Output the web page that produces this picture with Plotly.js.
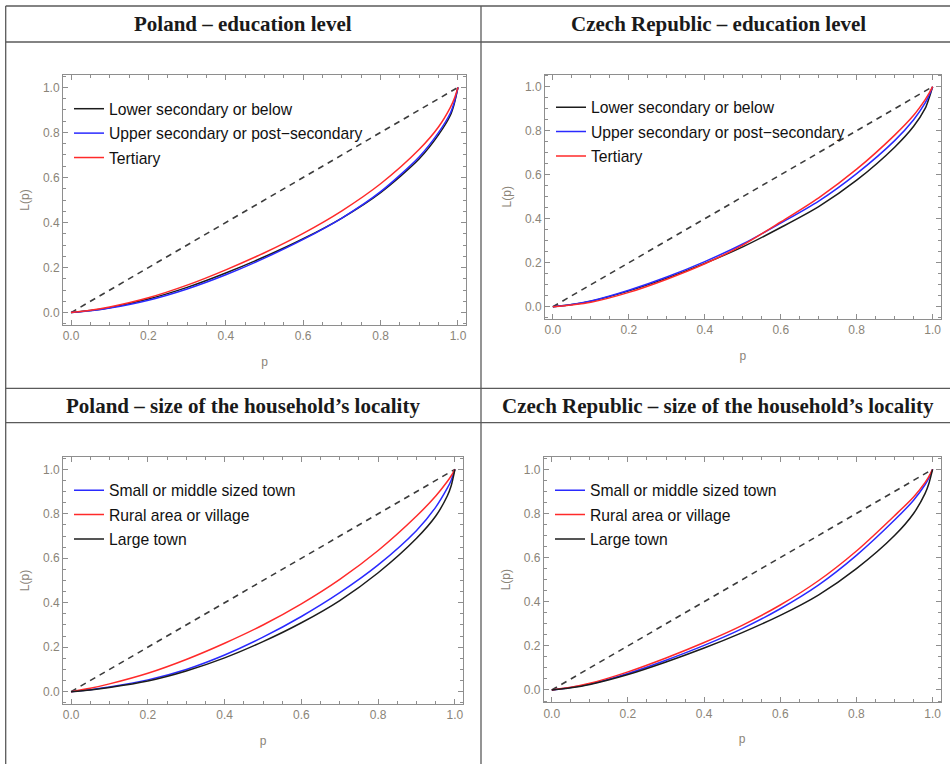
<!DOCTYPE html>
<html>
<head>
<meta charset="utf-8">
<script src="https://cdn.plot.ly/plotly-3.0.1.min.js"></script>
<style>
  html, body { margin: 0; padding: 0; background: #ffffff; }
  #chart { width: 950px; height: 764px; }
</style>
</head>
<body>
<div id="chart"></div>
<script>
// ---- data ----
const pGrid = [0, 0.05, 0.1, 0.2, 0.3, 0.4, 0.5, 0.6, 0.7, 0.8, 0.9, 0.95, 0.98, 0.99, 1];
const equality = [0, 1];

// Poland – education level
const plEduLower    = [0, 0.009, 0.022, 0.060, 0.112, 0.176, 0.248, 0.328, 0.420, 0.533, 0.683, 0.790, 0.875, 0.925, 1];
const plEduUpper    = [0, 0.008, 0.020, 0.055, 0.105, 0.168, 0.242, 0.325, 0.420, 0.537, 0.692, 0.800, 0.885, 0.932, 1];
const plEduTertiary = [0, 0.010, 0.025, 0.066, 0.122, 0.190, 0.266, 0.352, 0.452, 0.572, 0.725, 0.825, 0.910, 0.948, 1];

// Czech Republic – education level
const czEduLower    = [0, 0.010, 0.025, 0.072, 0.130, 0.197, 0.272, 0.360, 0.455, 0.575, 0.725, 0.820, 0.900, 0.945, 1];
const czEduUpper    = [0, 0.010, 0.026, 0.075, 0.135, 0.205, 0.285, 0.380, 0.480, 0.605, 0.755, 0.850, 0.925, 0.958, 1];
const czEduTertiary = [0, 0.008, 0.020, 0.065, 0.125, 0.195, 0.280, 0.385, 0.495, 0.625, 0.780, 0.870, 0.940, 0.968, 1];

// Poland – size of the household's locality
const plLocSmall = [0, 0.009, 0.021, 0.053, 0.100, 0.165, 0.245, 0.338, 0.445, 0.570, 0.725, 0.830, 0.915, 0.950, 1];
const plLocRural = [0, 0.015, 0.035, 0.083, 0.145, 0.218, 0.300, 0.395, 0.505, 0.635, 0.790, 0.880, 0.945, 0.970, 1];
const plLocLarge = [0, 0.008, 0.019, 0.048, 0.093, 0.152, 0.225, 0.310, 0.410, 0.535, 0.690, 0.790, 0.880, 0.925, 1];

// Czech Republic – size of the household's locality
const czLocSmall = [0, 0.011, 0.027, 0.075, 0.135, 0.202, 0.278, 0.368, 0.475, 0.610, 0.770, 0.860, 0.930, 0.960, 1];
const czLocRural = [0, 0.012, 0.030, 0.082, 0.145, 0.215, 0.293, 0.385, 0.495, 0.630, 0.790, 0.875, 0.940, 0.967, 1];
const czLocLarge = [0, 0.010, 0.025, 0.070, 0.127, 0.190, 0.260, 0.338, 0.430, 0.550, 0.700, 0.800, 0.890, 0.935, 1];

const eduNames = ["Lower secondary or below", "Upper secondary or post\u2212secondary", "Tertiary"];
const locNames = ["Small or middle sized town", "Rural area or village", "Large town"];
const panelTitles = [
  "Poland \u2013 education level",
  "Czech Republic \u2013 education level",
  "Poland \u2013 size of the household\u2019s locality",
  "Czech Republic \u2013 size of the household\u2019s locality"
];
const tickVals = [0, 0.2, 0.4, 0.6, 0.8, 1.0];
const tickLabels = ["0.0", "0.2", "0.4", "0.6", "0.8", "1.0"];

// ---- styling ----
const W = 950, H = 764;
const BLACK = "#1c1c1c", BLUE = "#2a2aff", RED = "#ff2a2a";
const LW = 1.5;
const GRAYTXT = "#8a8478";
const FRAME = "#8e8e8e";
const px = v => v / W;
const py = v => 1 - v / H;

const panels = [
  { xa: "x",  ya: "y",  leg: "legend",  dx: [63, 466],    dy: [75, 325],
    series: [[plEduLower, eduNames[0], BLACK], [plEduUpper, eduNames[1], BLUE], [plEduTertiary, eduNames[2], RED]],
    legX: 69, legY: 92 },
  { xa: "x2", ya: "y2", leg: "legend2", dx: [545, 940.5], dy: [74.6, 318.8],
    series: [[czEduLower, eduNames[0], BLACK], [czEduUpper, eduNames[1], BLUE], [czEduTertiary, eduNames[2], RED]],
    legX: 551, legY: 90.5 },
  { xa: "x3", ya: "y3", leg: "legend3", dx: [63.1, 462.9], dy: [457.1, 703.9],
    series: [[plLocSmall, locNames[0], BLUE], [plLocRural, locNames[1], RED], [plLocLarge, locNames[2], BLACK]],
    legX: 69, legY: 473.5 },
  { xa: "x4", ya: "y4", leg: "legend4", dx: [543.9, 940.5], dy: [457.2, 702.1],
    series: [[czLocSmall, locNames[0], BLUE], [czLocRural, locNames[1], RED], [czLocLarge, locNames[2], BLACK]],
    legX: 550, legY: 473.5 }
];

const traces = [];
const layout = {
  width: W, height: H,
  margin: { l: 0, r: 0, t: 0, b: 0 },
  paper_bgcolor: "#ffffff",
  plot_bgcolor: "#ffffff",
  font: { family: "Liberation Sans, Arial, sans-serif", color: GRAYTXT, size: 12 },
  showlegend: true,
  annotations: [],
  shapes: []
};

panels.forEach((pn, i) => {
  traces.push({
    x: equality, y: equality, xaxis: pn.xa, yaxis: pn.ya, mode: "lines",
    line: { color: "#3c3c3c", width: 1.6, dash: "6px,5px" },
    showlegend: false, hoverinfo: "skip"
  });
  pn.series.forEach((s, k) => {
    traces.push({
      x: pGrid, y: s[0], name: s[1], xaxis: pn.xa, yaxis: pn.ya, mode: "lines",
      line: { color: s[2], width: LW, shape: "spline", smoothing: 0.8 },
      legend: pn.leg, legendgroup: pn.leg + "_" + k
    });
  });
  const sfx = i === 0 ? "" : String(i + 1);
  const axCommon = {
    showgrid: false, zeroline: false,
    showline: true, linecolor: FRAME, linewidth: 1, mirror: "allticks",
    ticks: "inside", ticklen: 5, tickwidth: 1, tickcolor: FRAME,
    tickmode: "array", tickvals: tickVals, ticktext: tickLabels,
    tickfont: { family: "Liberation Sans, Arial, sans-serif", size: 12, color: GRAYTXT },
    minor: { tickmode: "linear", tick0: 0, dtick: 0.05, ticks: "inside", ticklen: 3, tickcolor: FRAME, tickwidth: 1, showgrid: false },
    fixedrange: true
  };
  layout["xaxis" + sfx] = Object.assign({}, axCommon, {
    domain: [px(pn.dx[0]), px(pn.dx[1])],
    range: [-0.0207, 1.0207],
    anchor: pn.ya,
    title: { text: "p", standoff: 15, font: { family: "Liberation Sans, Arial, sans-serif", size: 12, color: GRAYTXT } }
  });
  layout["yaxis" + sfx] = Object.assign({}, axCommon, {
    domain: [py(pn.dy[1]), py(pn.dy[0])],
    range: [-0.055, 1.055],
    anchor: pn.xa,
    title: { text: "L(p)", standoff: 10, font: { family: "Liberation Sans, Arial, sans-serif", size: 12, color: GRAYTXT } }
  });
  layout[pn.leg] = {
    x: px(pn.legX), y: py(pn.legY), xanchor: "left", yanchor: "top",
    bgcolor: "rgba(0,0,0,0)", borderwidth: 0,
    font: { family: "Liberation Sans, Arial, sans-serif", size: 15.7, color: "#111111" },
    tracegroupgap: 1
  };
});

// panel headers (table cells)
const headerPos = [[243, 24], [718, 24], [243, 406], [718, 406]];
panelTitles.forEach((t, i) => {
  layout.annotations.push({
    text: "<b>" + t + "</b>", xref: "paper", yref: "paper",
    x: px(headerPos[i][0]), y: py(headerPos[i][1]), xanchor: "center", yanchor: "middle",
    showarrow: false,
    font: { family: "Liberation Serif, Times New Roman, serif", size: 21, color: "#1a1a1a" }
  });
});

// table rules
const ruleColor = "#5a5a5a";
[6, 42, 388.3, 422.7].forEach(yv => {
  layout.shapes.push({ type: "line", xref: "paper", yref: "paper",
    x0: px(5.7), x1: 1, y0: py(yv), y1: py(yv), line: { color: ruleColor, width: 1.3 } });
});
[5.7, 481].forEach(xv => {
  layout.shapes.push({ type: "line", xref: "paper", yref: "paper",
    x0: px(xv), x1: px(xv), y0: py(6), y1: 0, line: { color: ruleColor, width: 1.3 } });
});

Plotly.newPlot("chart", traces, layout, { displayModeBar: false, staticPlot: true });
</script>
</body>
</html>
